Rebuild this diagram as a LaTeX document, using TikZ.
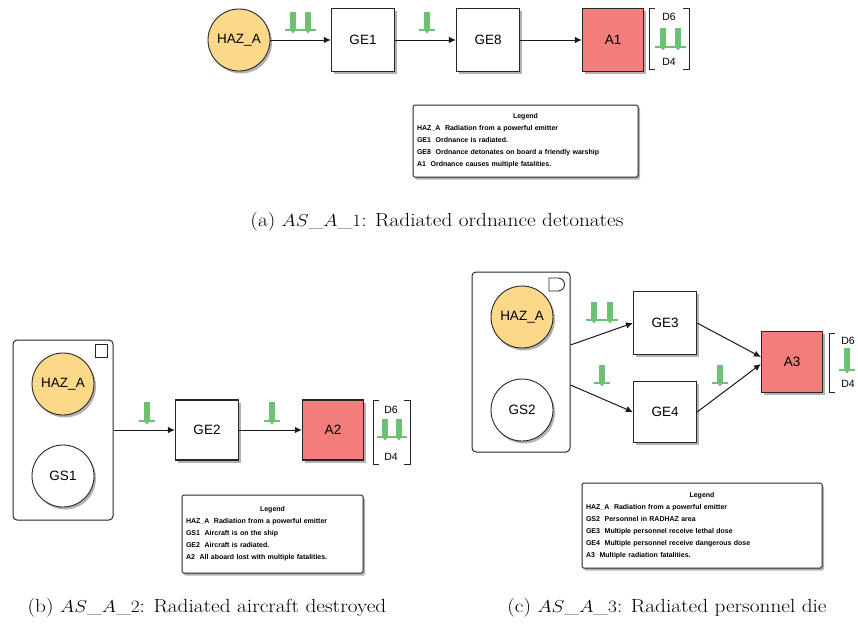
\documentclass[tikz,border=0pt]{standalone}
\usepackage{fontspec}
\usepackage{graphicx}
\setsansfont{Liberation Sans}
\usetikzlibrary{shadows,arrows.meta,calc}
\definecolor{hazfill}{HTML}{FCD889}
\definecolor{accfill}{HTML}{F27E7B}
\definecolor{pingreen}{HTML}{6DC173}
\newcommand{\gpinone}[3]{%
  \fill[pingreen] (#1-2.8,#3) rectangle (#1+2.8,#2);
  \fill[pingreen] (#1-2.8,#2) -- (#1+2.8,#2) -- (#1,#2+3.5) -- cycle;
  \draw[pingreen,line width=1.4pt] (#1-8,#2) -- (#1+8,#2);}
\newcommand{\gpintwo}[4]{%
  \fill[pingreen] (#1-2.8,#4) rectangle (#1+2.8,#3);
  \fill[pingreen] (#1-2.8,#3) -- (#1+2.8,#3) -- (#1,#3+3.5) -- cycle;
  \fill[pingreen] (#2-2.8,#4) rectangle (#2+2.8,#3);
  \fill[pingreen] (#2-2.8,#3) -- (#2+2.8,#3) -- (#2,#3+3.5) -- cycle;
  \draw[pingreen,line width=1.4pt] (#1-8,#3) -- (#2+8,#3);}
\newcommand{\capwide}[1]{\scalebox{1.12}[1]{#1}}
\tikzset{
  shd/.style={drop shadow={shadow xshift=2pt,shadow yshift=-2.5pt,opacity=0.3,fill=black}},
  nodefont/.style={font=\sffamily\fontsize{13.5}{13.5}\selectfont},
  hazard/.style={circle,draw=black!85,line width=0.9pt,fill=hazfill,minimum size=62pt,inner sep=0pt,nodefont,shd},
  gstate/.style={hazard,fill=white},
  gebox/.style={rectangle,draw=black!85,line width=1.2pt,fill=white,minimum width=63pt,minimum height=63pt,inner sep=0pt,nodefont,shd},
  accbox/.style={gebox,fill=accfill,minimum width=61pt},
  container/.style={rectangle,draw=black!85,line width=1pt,rounded corners=4pt,fill=white,inner sep=0pt},
  flow/.style={draw=black!90,line width=1pt,-{Latex[length=7pt,width=6.5pt]}},
  legendbox/.style={rectangle,draw=black!85,line width=1pt,fill=white,rounded corners=1.5pt,align=left,inner sep=4pt,
    font=\sffamily\bfseries\fontsize{7}{12}\selectfont,shd},
  caption/.style={font=\rmfamily\fontsize{19}{21}\selectfont,inner sep=0pt},
  dlabel/.style={font=\sffamily\fontsize{10.5}{10.5}\selectfont,inner sep=0pt},
  brk/.style={draw=black!85,line width=0.9pt}
}
\begin{document}
\begin{tikzpicture}[x=1pt,y=-1pt]
\useasboundingbox (0,0) rectangle (858,629);
% ---------------- (a) ----------------
\node[hazard] (haz1) at (239,40) {HAZ\_A};
\node[gebox] (ge1) at (363,40) {GE1};
\node[gebox] (ge8) at (488,40) {GE8};
\node[accbox] (a1) at (613,40) {A1};
\draw[flow] (haz1) -- (ge1);
\draw[flow] (ge1) -- (ge8);
\draw[flow] (ge8) -- (a1);
\gpintwo{293}{308}{30}{12}
\gpinone{427}{30}{12}
\draw[brk] (655,8) -- (649,8) -- (649,69) -- (655,69);
\draw[brk] (683,8) -- (689,8) -- (689,69) -- (683,69);
\node[dlabel] (d6a) at (669,17) {D6};
\node[dlabel] (d4a) at (669,62) {D4};
\gpintwo{663}{678}{47}{28}
\node[legendbox,text width=217pt,minimum height=72pt] (leg1) at (525.5,141) {%
\makebox[\linewidth]{Legend}\\
HAZ\_A\ \ Radiation from a powerful emitter\\
GE1\ \ Ordnance is radiated.\\
GE8\ \ Ordnance detonates on board a friendly warship\\
A1\ \ Ordnance causes multiple fatalities.};
\node[caption] (cap1) at (437,222) {\capwide{(a) $AS\_A\_1$: Radiated ordnance detonates}};
% ---------------- (b) ----------------
\node[container,minimum width=100pt,minimum height=180pt] (cont2) at (63,430) {};
\draw[draw=black!85,line width=0.9pt] (95,344) rectangle (107,357);
\node[hazard] (haz2) at (63,384) {HAZ\_A};
\node[gstate] (gs1) at (63,476) {GS1};
\node[gebox,minimum height=60pt] (ge2) at (207,430) {GE2};
\node[accbox,minimum height=60pt] (a2) at (333,430) {A2};
\draw[flow] (cont2) -- (ge2);
\draw[flow] (ge2) -- (a2);
\gpinone{147}{421}{402}
\gpinone{272}{421}{402}
\draw[brk] (379,400) -- (373,400) -- (373,464) -- (379,464);
\draw[brk] (404,400) -- (410,400) -- (410,464) -- (404,464);
\node[dlabel] (d6b) at (391,410) {D6};
\node[dlabel] (d4b) at (391,457) {D4};
\gpintwo{385}{399}{437}{419}
\node[legendbox,text width=173pt,minimum height=78pt] (leg2) at (272.5,534) {%
\makebox[\linewidth]{Legend}\\
HAZ\_A\ \ Radiation from a powerful emitter\\
GS1\ \ Aircraft is on the ship\\
GE2\ \ Aircraft is radiated.\\
A2\ \ All aboard lost with multiple fatalities.};
\node[caption] (cap2) at (207,608) {\capwide{(b) $AS\_A\_2$: Radiated aircraft destroyed}};
% ---------------- (c) ----------------
\node[container,minimum width=98pt,minimum height=180pt] (cont3) at (521,362) {};
\draw[draw=black!85,line width=0.9pt] (558,278) -- (549,278) -- (549,291) -- (558,291) arc[start angle=-90,end angle=90,radius=6.5pt];
\node[hazard] (haz3) at (522,317) {HAZ\_A};
\node[gstate] (gs2) at (522,410) {GS2};
\node[gebox] (ge3) at (665,323) {GE3};
\node[gebox,minimum height=61pt] (ge4) at (665,412) {GE4};
\node[accbox,minimum height=61pt] (a3) at (792,362) {A3};
\coordinate (c3a) at ($(cont3.east)+(0,-17)$);
\coordinate (c3b) at ($(cont3.east)+(0,23)$);
\draw[flow] (c3a) -- (ge3.west);
\draw[flow] (c3b) -- (ge4.west);
\draw[flow] (ge3.east) -- ($(a3.west)+(0,-5)$);
\draw[flow] (ge4.east) -- ($(a3.west)+(0,2)$);
\gpintwo{594}{610}{320}{302}
\gpinone{602}{383}{365}
\gpinone{720}{383}{365}
\draw[brk] (835,333) -- (829,333) -- (829,392) -- (835,392);
\draw[brk] (866,333) -- (872,333) -- (872,392) -- (866,392);
\node[dlabel] (d6c) at (848,341) {D6};
\node[dlabel] (d4c) at (848,384) {D4};
\gpinone{847}{370}{348}
\node[legendbox,text width=232pt,minimum height=85pt] (leg3) at (702,525.5) {%
\makebox[\linewidth]{Legend}\\
HAZ\_A\ \ Radiation from a powerful emitter\\
GS2\ \ Personnel in RADHAZ area\\
GE3\ \ Multiple personnel receive lethal dose\\
GE4\ \ Multiple personnel receive dangerous dose\\
A3\ \ Multiple radiation fatalities.};
\node[caption] (cap3) at (667,608) {\capwide{(c) $AS\_A\_3$: Radiated personnel die}};
\end{tikzpicture}
\end{document}
